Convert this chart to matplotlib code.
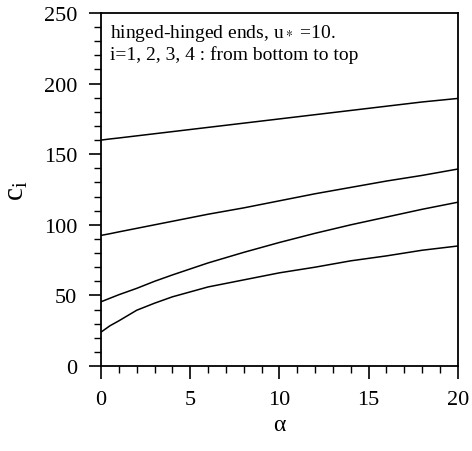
import matplotlib
matplotlib.use("Agg")
import matplotlib.pyplot as plt
from matplotlib.ticker import MultipleLocator

plt.rcParams['font.family'] = ['Liberation Serif', 'DejaVu Serif']
plt.rcParams['mathtext.fontset'] = 'stix'

alpha = [0, 0.5, 1, 2, 3, 4, 6, 8, 10, 12, 14, 16, 18, 20]
c1 = [24, 28.5, 32, 39.5, 44.5, 49, 56, 61, 66, 70, 74.5, 78, 82, 85]
c2 = [45.5, 48, 50.5, 55, 60, 64.5, 73, 80.5, 87.5, 94, 100, 105.5, 111, 116]
c3 = [92.5, 93.7, 95, 97.5, 100, 102.5, 107.5, 112, 117, 122, 126.5, 131, 135, 139.5]
c4 = [160, 160.8, 161.5, 163, 164.5, 166, 169, 172, 175, 178, 181, 184, 187, 189.5]

fig = plt.figure(figsize=(4.72, 4.52), dpi=100)
ax = fig.add_axes([0.214, 0.188, 0.756, 0.781])

for c in (c1, c2, c3, c4):
    ax.plot(alpha, c, color='black', lw=1.1)

ax.set_xlim(0, 20)
ax.set_ylim(0, 250)
ax.xaxis.set_major_locator(MultipleLocator(5))
ax.xaxis.set_minor_locator(MultipleLocator(1))
ax.yaxis.set_major_locator(MultipleLocator(50))
ax.yaxis.set_minor_locator(MultipleLocator(10))
ax.tick_params(which='major', direction='out', length=9, width=1.2, labelsize=16, pad=8)
ax.tick_params(which='minor', direction='out', length=5, width=1.0)
for s in ax.spines.values():
    s.set_linewidth(1.3)

ax.set_xlabel('α', fontsize=17, labelpad=4)
ax.set_ylabel(r'$\mathregular{c_i}$', fontsize=21, labelpad=10)

ax.text(0.025, 0.945, 'hinged-hinged ends, u$_*$ =10.', transform=ax.transAxes,
        fontsize=14, va='center', ha='left')
ax.text(0.025, 0.885, 'i=1, 2, 3, 4 : from bottom to top', transform=ax.transAxes,
        fontsize=14, va='center', ha='left')

fig.savefig('out.png', dpi=100)
